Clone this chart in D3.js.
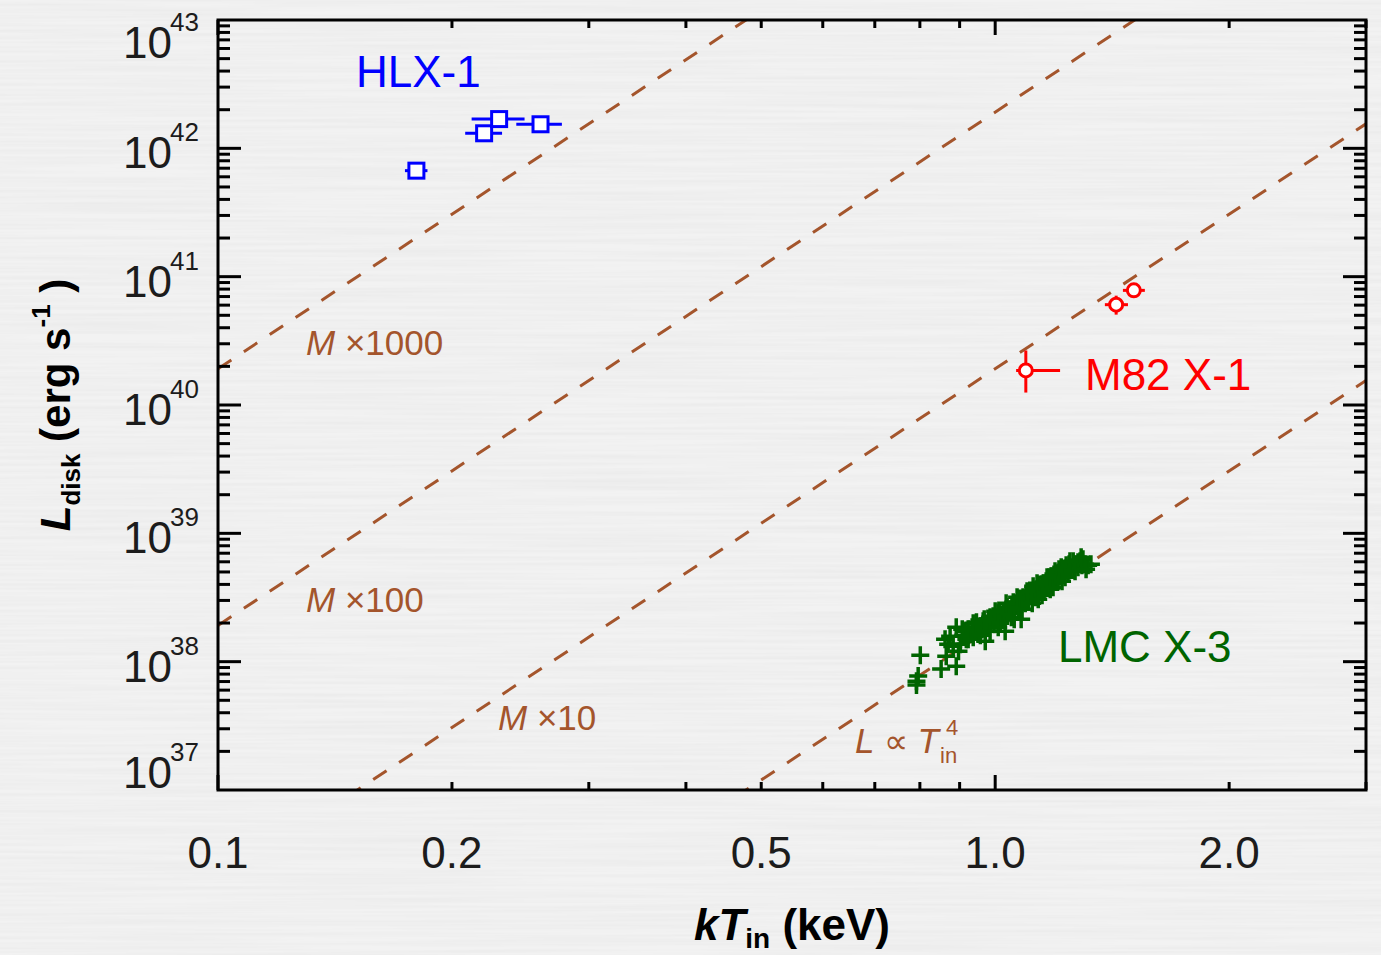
<!DOCTYPE html>
<html>
<head>
<meta charset="utf-8">
<script src="https://cdn.jsdelivr.net/npm/d3@7"></script>
<style>
  html, body { margin: 0; padding: 0; background: #f0f0f0; }
  svg { display: block; }
  text { font-family: "Liberation Sans", Arial, Helvetica, sans-serif; }
</style>
</head>
<body>
<svg id="chart" width="1381" height="955"></svg>
<script>
// ---- HLX-1 (kT_in in keV, L_disk in erg/s) ----
const hlxT   = [0.180, 0.220, 0.230, 0.260];
const hlxTlo = [0.174, 0.208, 0.212, 0.242];
const hlxThi = [0.186, 0.232, 0.248, 0.277];
const hlxL   = [6.7e41, 1.31e42, 1.69e42, 1.54e42];

// ---- M82 X-1 ----
const m82T   = [1.095, 1.431, 1.508];
const m82Tlo = [1.064, 1.384, 1.460];
const m82Thi = [1.212, 1.482, 1.558];
const m82L   = [1.86e40, 6.05e40, 7.82e40];
const m82Llo = [1.25e40, 5.06e40, 7.15e40];
const m82Lhi = [2.66e40, 7.11e40, 8.55e40];

// ---- LMC X-3 (L in units of 1e38 erg/s) ----
const lmcT = [
  0.792, 0.792, 0.796, 0.801, 0.852, 0.865, 0.891, 0.862, 0.891, 0.897, 0.883, 0.875, 0.870,
  0.910, 0.915, 0.918, 0.923, 0.929, 0.934, 0.937, 0.943, 0.946, 0.951, 0.957, 0.962, 0.965,
  0.971, 0.974, 0.980, 0.983, 0.985, 0.988, 0.994, 0.997, 1.003, 1.009, 1.009, 1.012, 1.018,
  1.024, 1.027, 1.030, 1.030, 1.036, 1.039, 1.045, 1.052, 1.055, 1.058, 1.064, 1.071, 1.074,
  1.080, 1.080, 1.086, 1.090, 1.093, 1.096, 1.103, 1.106, 1.112, 1.119, 1.119, 1.126, 1.129,
  1.136, 1.139, 1.146, 1.149, 1.153, 1.156, 1.163, 1.170, 1.173, 1.180, 1.184, 1.191, 1.194,
  1.198, 1.201, 1.205, 1.212, 1.216, 1.223, 1.226, 1.234, 1.241, 1.245, 1.248, 1.252, 1.260,
  1.263, 1.271, 1.278, 1.278, 1.286, 1.293, 1.297, 1.305, 1.317, 1.328,
  0.923, 0.937, 0.957, 0.968, 0.985, 1.000, 1.015, 1.033, 1.049, 1.067, 1.083, 1.099, 1.116,
  1.132, 1.149, 1.166, 1.187, 1.208, 1.230, 1.248, 1.267, 1.290, 1.309, 1.009, 1.058, 0.902,
  0.907, 1.136, 1.177, 1.219
];
const lmcL = [
  0.705, 0.657, 0.772, 1.124, 0.875, 1.104, 0.923, 1.498, 1.857, 1.208, 1.321, 1.580, 1.369,
  1.609, 1.728, 1.498, 1.791, 1.638, 1.857, 1.552, 1.760, 2.031, 1.667, 1.890, 1.791, 2.068,
  1.445, 1.925, 2.143, 1.857, 2.221, 2.068, 2.261, 1.959, 2.221, 2.068, 2.386, 2.430, 2.221,
  2.473, 2.143, 1.728, 2.302, 2.657, 2.386, 2.564, 2.754, 2.906, 2.473, 2.854, 2.657, 3.067,
  2.143, 2.906, 3.179, 2.959, 2.854, 3.295, 3.067, 3.477, 3.236, 3.872, 3.415, 3.179, 3.669,
  3.415, 3.942, 3.669, 3.802, 4.085, 3.540, 4.235, 3.872, 4.549, 4.632, 4.085, 4.469, 5.066,
  4.888, 4.632, 4.235, 4.888, 5.443, 4.716, 5.251, 5.641, 5.066, 5.743, 5.251, 5.443, 6.061,
  5.251, 5.743, 5.953, 5.443, 6.061, 5.641, 6.282, 5.743, 5.641, 5.743,
  1.498, 1.995, 1.609, 2.143, 1.728, 2.473, 1.995, 2.854, 2.221, 3.179, 2.564, 3.540, 2.854,
  4.085, 3.295, 4.549, 3.802, 5.251, 4.549, 6.061, 5.066, 6.511, 5.251, 1.857, 2.143, 1.369,
  1.791, 3.067, 3.669, 4.235
];

// ---- L ∝ T^4 reference lines: mass scale factors ----
const massFactors = [1, 10, 100, 1000];
const refT0 = 0.478;          // keV where the M×1 line reaches 1e37 erg/s
const refL0 = 1e37;

// ---- axes ----
const xDomain = [0.1, 3.0];
const yDomain = [1e37, 1e43];
const xTickValues = [0.1, 0.2, 0.5, 1.0, 2.0];
const xTickLabels = ["0.1", "0.2", "0.5", "1.0", "2.0"];
const xMinorValues = [0.2, 0.3, 0.4, 0.5, 0.6, 0.7, 0.8, 0.9, 2.0, 3.0];
const xMajorValues = [0.1, 1.0];
const yExponents = [37, 38, 39, 40, 41, 42, 43];

const svg = d3.select("#chart");
const W = 1381, H = 955;
const pLeft = 218, pRight = 1366, pTop = 20, pBottom = 790;

const x = d3.scaleLog().domain(xDomain).range([pLeft, pRight]);
const y = d3.scaleLog().domain(yDomain).range([pBottom, pTop]);

// paper-like background
const defs = svg.append("defs");
const f = defs.append("filter").attr("id", "paper").attr("x", 0).attr("y", 0)
  .attr("width", 1).attr("height", 1);
f.append("feTurbulence").attr("type", "fractalNoise")
  .attr("baseFrequency", "0.004 0.3").attr("numOctaves", 2).attr("seed", 7);
f.append("feColorMatrix").attr("type", "matrix")
  .attr("values", "0 0 0 0 0  0 0 0 0 0  0 0 0 0 0  0 0 0 0.05 -0.015");
svg.append("rect").attr("width", W).attr("height", H).attr("fill", "#f2f2f2");
svg.append("rect").attr("width", W).attr("height", H).attr("filter", "url(#paper)");

defs.append("clipPath").attr("id", "plotclip")
  .append("rect").attr("x", pLeft).attr("y", pTop)
  .attr("width", pRight - pLeft).attr("height", pBottom - pTop);

const brown = "#a4552c";

// reference lines
const plot = svg.append("g").attr("clip-path", "url(#plotclip)");
const refLine = d3.line().x(d => x(d[0])).y(d => y(d[1]));
massFactors.forEach(m => {
  const pts = xDomain.map(t => [t, refL0 * Math.pow(t / refT0, 4) * m * m]);
  plot.append("path").attr("d", refLine(pts))
    .attr("fill", "none").attr("stroke", brown).attr("stroke-width", 3)
    .attr("stroke-dasharray", "16,15");
});

// line labels
function massLabel(px, py, txt) {
  const t = svg.append("text").attr("x", px).attr("y", py)
    .attr("font-size", 35).attr("fill", brown);
  t.append("tspan").attr("font-style", "italic").text("M");
  t.append("tspan").text(" \u00d7" + txt);
}
massLabel(306, 355, "1000");
massLabel(306, 612, "100");
massLabel(498, 730, "10");
{
  const t = svg.append("text").attr("x", 855).attr("y", 753)
    .attr("font-size", 35).attr("fill", brown);
  t.append("tspan").attr("font-style", "italic").text("L");
  t.append("tspan").attr("font-size", 34).text(" \u221d ");
  t.append("tspan").attr("font-style", "italic").text("T");
  svg.append("text").attr("x", 946).attr("y", 735).attr("font-size", 22)
    .attr("fill", brown).text("4");
  svg.append("text").attr("x", 940).attr("y", 763).attr("font-size", 22)
    .attr("fill", brown).text("in");
}

// HLX-1
const blue = "#0000ff";
const hlx = plot.append("g");
hlxT.forEach((t, i) => {
  hlx.append("line").attr("x1", x(hlxTlo[i])).attr("x2", x(hlxThi[i]))
    .attr("y1", y(hlxL[i])).attr("y2", y(hlxL[i]))
    .attr("stroke", blue).attr("stroke-width", 3);
});
hlxT.forEach((t, i) => {
  hlx.append("rect").attr("x", x(t) - 7.5).attr("y", y(hlxL[i]) - 7.5)
    .attr("width", 15).attr("height", 15)
    .attr("fill", "#fff").attr("stroke", blue).attr("stroke-width", 3);
});

// M82 X-1
const red = "#ff0000";
const m82 = plot.append("g");
m82T.forEach((t, i) => {
  m82.append("line").attr("x1", x(m82Tlo[i])).attr("x2", x(m82Thi[i]))
    .attr("y1", y(m82L[i])).attr("y2", y(m82L[i]))
    .attr("stroke", red).attr("stroke-width", 3);
  m82.append("line").attr("x1", x(t)).attr("x2", x(t))
    .attr("y1", y(m82Llo[i])).attr("y2", y(m82Lhi[i]))
    .attr("stroke", red).attr("stroke-width", 3);
});
m82T.forEach((t, i) => {
  m82.append("circle").attr("cx", x(t)).attr("cy", y(m82L[i])).attr("r", 6.5)
    .attr("fill", "#fff").attr("stroke", red).attr("stroke-width", 3);
});

// LMC X-3
const green = "#006400";
const lmc = plot.append("g").attr("stroke", green).attr("stroke-width", 3.5);
lmcT.forEach((t, i) => {
  const cx = x(t), cy = y(lmcL[i] * 1e38), s = 9;
  lmc.append("path").attr("d", `M${cx - s},${cy}H${cx + s}M${cx},${cy - s}V${cy + s}`);
});

// source labels
svg.append("text").attr("x", 356).attr("y", 87).attr("font-size", 44)
  .attr("fill", blue).text("HLX-1");
svg.append("text").attr("x", 1085).attr("y", 390).attr("font-size", 44)
  .attr("fill", red).text("M82 X-1");
svg.append("text").attr("x", 1058).attr("y", 662).attr("font-size", 44)
  .attr("fill", green).text("LMC X-3");

// ticks
const axes = svg.append("g").attr("stroke", "#000").attr("stroke-width", 3);
yExponents.forEach(e => {
  const yy = y(Math.pow(10, e));
  if (e > 37 && e < 43) {
    axes.append("line").attr("x1", pLeft).attr("x2", pLeft + 23).attr("y1", yy).attr("y2", yy);
    axes.append("line").attr("x1", pRight).attr("x2", pRight - 23).attr("y1", yy).attr("y2", yy);
  }
  if (e < 43) {
    for (let k = 2; k <= 9; k++) {
      const ym = y(k * Math.pow(10, e));
      axes.append("line").attr("x1", pLeft).attr("x2", pLeft + 12).attr("y1", ym).attr("y2", ym);
      axes.append("line").attr("x1", pRight).attr("x2", pRight - 12).attr("y1", ym).attr("y2", ym);
    }
  }
});
xMinorValues.forEach(v => {
  const xx = x(v);
  axes.append("line").attr("x1", xx).attr("x2", xx).attr("y1", pBottom).attr("y2", pBottom - 8);
  axes.append("line").attr("x1", xx).attr("x2", xx).attr("y1", pTop).attr("y2", pTop + 8);
});
xMajorValues.forEach(v => {
  const xx = x(v);
  axes.append("line").attr("x1", xx).attr("x2", xx).attr("y1", pBottom).attr("y2", pBottom - 15);
  axes.append("line").attr("x1", xx).attr("x2", xx).attr("y1", pTop).attr("y2", pTop + 15);
});
// frame
svg.append("rect").attr("x", pLeft).attr("y", pTop)
  .attr("width", pRight - pLeft).attr("height", pBottom - pTop)
  .attr("fill", "none").attr("stroke", "#000").attr("stroke-width", 3);

// tick labels
const labelColor = "#1c1c1c";
xTickValues.forEach((v, i) => {
  svg.append("text").attr("x", x(v)).attr("y", 868).attr("text-anchor", "middle")
    .attr("font-size", 44).attr("fill", labelColor).text(xTickLabels[i]);
});
yExponents.forEach(e => {
  const base = Math.min(Math.max(y(Math.pow(10, e)) + 20, 58), 788);
  svg.append("text").attr("x", 172).attr("y", base).attr("text-anchor", "end")
    .attr("font-size", 44).attr("fill", labelColor).text("10");
  svg.append("text").attr("x", 170).attr("y", base - 27)
    .attr("font-size", 26).attr("fill", labelColor).text(String(e));
});

// axis titles
{
  const t = svg.append("text").attr("x", 792).attr("y", 940).attr("text-anchor", "middle")
    .attr("font-size", 44).attr("font-weight", "bold").attr("fill", "#000");
  t.append("tspan").attr("font-style", "italic").text("kT");
  t.append("tspan").attr("font-size", 28).attr("dy", 8).text("in");
  t.append("tspan").attr("dy", -8).text(" (keV)");
}
{
  const t = svg.append("text").attr("transform", "translate(70,405) rotate(-90)")
    .attr("text-anchor", "middle")
    .attr("font-size", 42).attr("font-weight", "bold").attr("fill", "#000");
  t.append("tspan").attr("font-style", "italic").text("L");
  t.append("tspan").attr("font-size", 26).attr("dy", 10).text("disk");
  t.append("tspan").attr("dy", -10).text(" (erg s");
  t.append("tspan").attr("font-size", 26).attr("dy", -20).text("-1");
  t.append("tspan").attr("dy", 20).text(" )");
}
</script>
</body>
</html>
